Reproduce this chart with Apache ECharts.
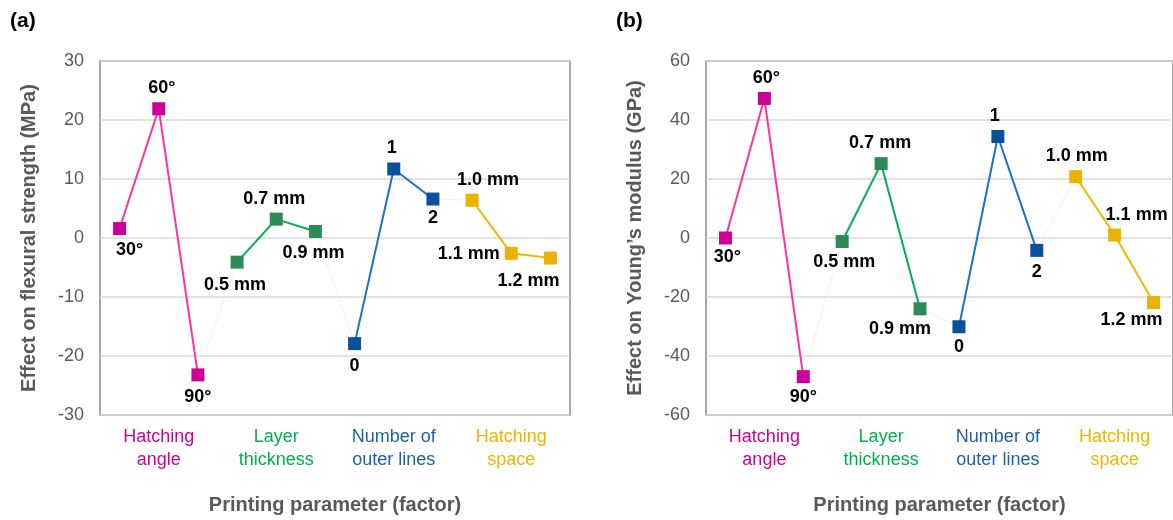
<!DOCTYPE html>
<html>
<head>
<meta charset="utf-8">
<script src="https://cdn.jsdelivr.net/npm/echarts@6/dist/echarts.min.js"></script>
<style>html,body{margin:0;padding:0;background:#fff}#c{width:1173px;height:520px}</style>
</head>
<body>
<div id="c"></div>
<script>
// ---- data ----
const categories = ['30°','60°','90°','0.5 mm','0.7 mm','0.9 mm','0','1','2','1.0 mm','1.1 mm','1.2 mm'];
const groupNames = ['Hatching\nangle','Layer\nthickness','Number of\nouter lines','Hatching\nspace'];
const flexuralValues = [1.6, 21.9, -23.2, -4.1, 3.2, 1.1, -17.9, 11.7, 6.6, 6.4, -2.6, -3.4];
const youngValues = [0.0, 47.3, -47.0, -1.2, 25.2, -24.0, -30.1, 34.4, -4.2, 20.8, 1.0, -21.9];
const yTicksA = { min: -30, max: 30, interval: 10 };
const yTicksB = { min: -60, max: 60, interval: 20 };

// ---- styles ----
const groupMarker = ['#CC0099', '#2E8B57', '#0C4F9C', '#E9B300'];
const groupLine = ['#FF3399', '#00B050', '#1A73C6', '#F2B800'];
const groupText = ['#CC0099', '#00B050', '#1F5FAA', '#EEB500'];
// label placement per point: [position, dx, dy]
const labelPosA = [['bottom',10,1],['top',3,0],['bottom',0,2],['bottom',-2,2],['top',-2,0],['bottom',-2,1],
                   ['bottom',0,2],['top',-2,0],['bottom',0,-2],['top',16,0],['left',0,1],['bottom',-22,2]];
const labelPosB = [['bottom',2,-1],['top',2,0],['bottom',0,0],['bottom',2,0],['top',-1,0],['bottom',-20,0],
                   ['bottom',0,0],['top',-3,0],['bottom',0,1],['top',1,0],['top',22,0],['bottom',-22,-3]];

const FONT = 'Liberation Sans, Arial, Helvetica, sans-serif';
const grey = '#595959';

function grid(left) {
  return { left: left, top: 61, width: 470, height: 355, show: true, borderColor: '#8c8c8c', borderWidth: 1.5, backgroundColor: 'transparent', containLabel: false };
}
function catAxis(gi) {
  return { type: 'category', gridIndex: gi, data: categories, boundaryGap: true,
    axisLine: { show: false }, axisTick: { show: false }, axisLabel: { show: false }, splitLine: { show: false } };
}
function groupAxis(gi) {
  return { type: 'category', gridIndex: gi, position: 'bottom', boundaryGap: true,
    data: groupNames.map((n, i) => ({ value: n, textStyle: { color: groupText[i] } })),
    axisLine: { show: false }, axisTick: { show: false }, splitLine: { show: false },
    axisLabel: { show: true, interval: 0, fontSize: 18, lineHeight: 23, fontFamily: FONT, margin: 11 },
    name: 'Printing parameter (factor)', nameLocation: 'middle', nameGap: 80,
    nameTextStyle: { fontSize: 20, fontWeight: 'bold', color: grey, fontFamily: FONT } };
}
function valAxis(gi, t, name) {
  return { type: 'value', gridIndex: gi, min: t.min, max: t.max, interval: t.interval,
    axisLine: { show: false }, axisTick: { show: false },
    axisLabel: { fontSize: 18, color: grey, fontFamily: FONT, margin: 16 },
    splitLine: { lineStyle: { color: '#d9d9d9', width: 1.5 } },
    name: name, nameLocation: 'middle', nameGap: 61,
    nameTextStyle: { fontSize: 20, fontWeight: 'bold', color: grey, fontFamily: FONT } };
}
function seriesFor(values, xi, yi, lp) {
  const out = [{
    type: 'line', xAxisIndex: xi, yAxisIndex: yi, data: values, symbol: 'none', z: 1,
    lineStyle: { color: '#dfe6ee', width: 1, type: 'dotted' }, silent: true, animation: false
  }];
  for (let g = 0; g < 4; g++) {
    const d = values.map((v, i) => {
      if (Math.floor(i / 3) !== g) return '-';
      const p = lp[i];
      return { value: v, label: { show: true, position: p[0], offset: [p[1], p[2]], formatter: categories[i] } };
    });
    out.push({
      type: 'line', xAxisIndex: xi, yAxisIndex: yi, data: d, z: 3, animation: false,
      symbol: 'rect', symbolSize: 13, showAllSymbol: true, connectNulls: false,
      itemStyle: { color: groupMarker[g] },
      lineStyle: { color: groupLine[g], width: 2 },
      label: { fontSize: 18, fontWeight: 'bold', color: '#000', fontFamily: FONT, distance: 5 }
    });
  }
  return out;
}

const chart = echarts.init(document.getElementById('c'), null, { renderer: 'canvas' });
chart.setOption({
  backgroundColor: '#fff',
  animation: false,
  title: [
    { text: '(a)', left: 5, top: 6, textStyle: { fontSize: 21, fontWeight: 'bold', color: '#000', fontFamily: FONT } },
    { text: '(b)', left: 611, top: 6, textStyle: { fontSize: 21, fontWeight: 'bold', color: '#000', fontFamily: FONT } }
  ],
  grid: [grid(100), grid(706)],
  xAxis: [catAxis(0), groupAxis(0), catAxis(1), groupAxis(1)],
  yAxis: [valAxis(0, yTicksA, 'Effect on flexural strength (MPa)'), valAxis(1, yTicksB, 'Effect on Young\u2019s modulus (GPa)')],
  series: [].concat(seriesFor(flexuralValues, 0, 0, labelPosA), seriesFor(youngValues, 2, 1, labelPosB))
});
</script>
</body>
</html>
